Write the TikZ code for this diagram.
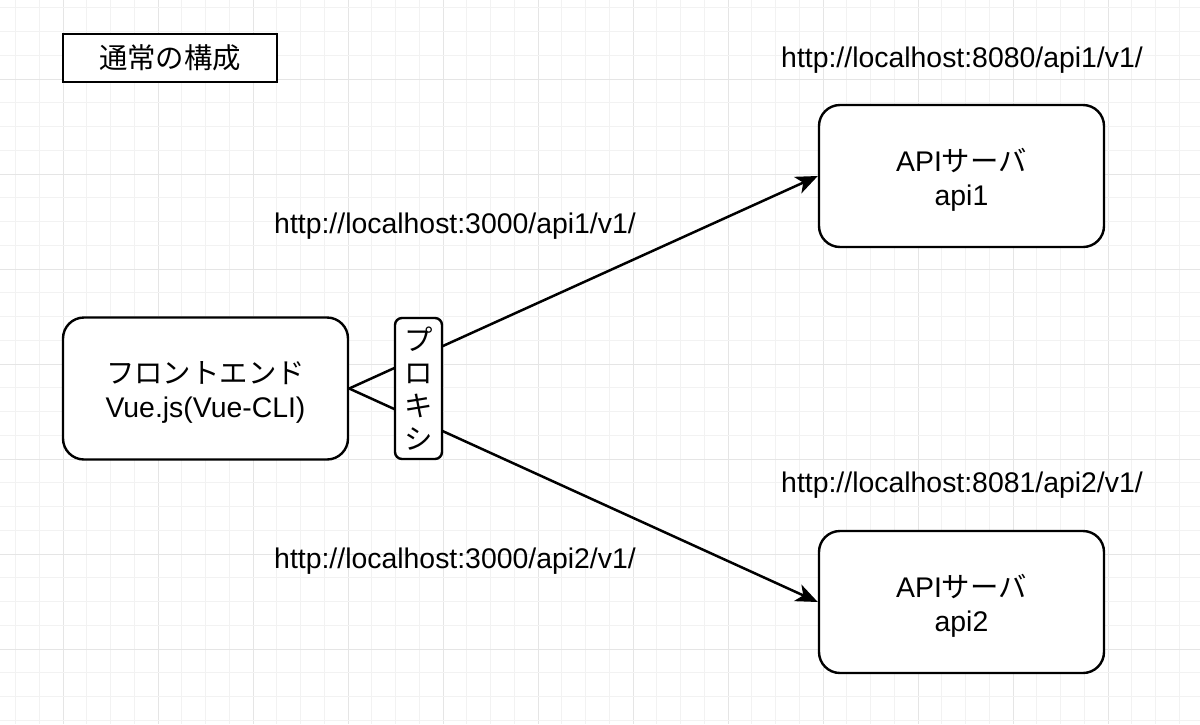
\documentclass[tikz,border=0pt]{standalone}
\usepackage{fontspec}
\setmainfont{Liberation Sans}
\newfontfamily\jp{Noto Sans CJK JP}
\usetikzlibrary{arrows.meta}
\begin{document}
\begin{tikzpicture}[x=0.5pt,y=-0.5pt,
  txt/.style={font=\fontsize{14.2pt}{17pt}\selectfont, inner sep=0pt},
  boxtxt/.style={font=\fontsize{14.2pt}{17pt}\selectfont, inner sep=0pt, align=center},
  bigbox/.style={draw, line width=1.2pt, rounded corners=10.5pt, fill=white,
    minimum width=142.5pt, minimum height=71pt, inner sep=0pt},
  proxybox/.style={draw, line width=1.2pt, rounded corners=3.5pt, fill=white,
    minimum width=23.5pt, minimum height=70.5pt, align=center, inner sep=0pt,
    font=\jp\fontsize{14.2pt}{16.5pt}\selectfont},
  titlebox/.style={draw, line width=1.2pt, fill=white,
    minimum width=107pt, minimum height=24pt, inner sep=0pt,
    font=\jp\fontsize{14.2pt}{17pt}\selectfont},
  edge/.style={line width=1.25pt, -{Stealth[length=11pt,width=9pt,inset=3pt]}},
  minorgrid/.style={draw=black!5, line width=0.5pt},
  majorgrid/.style={draw=black!10, line width=0.5pt}]
\useasboundingbox (0,0) rectangle (1200,724);
\fill[white] (0,0) rectangle (1200,724);
% grid
\foreach \i in {0,...,50} {
  \pgfmathsetmacro{\xx}{15.5+23.75*\i}
  \pgfmathtruncatemacro{\m}{mod(\i+2,4)}
  \ifnum\m=0 \draw[majorgrid] (\xx,0) -- (\xx,724); \else \draw[minorgrid] (\xx,0) -- (\xx,724); \fi
}
\foreach \j in {0,...,30} {
  \pgfmathsetmacro{\yy}{7.75+23.75*\j}
  \pgfmathtruncatemacro{\m}{mod(\j+1,4)}
  \ifnum\m=0 \draw[majorgrid] (0,\yy) -- (1200,\yy); \else \draw[minorgrid] (0,\yy) -- (1200,\yy); \fi
}
% title
\node[titlebox] (title) at (170,58) {通常の構成};
% boxes
\node[bigbox] (fe) at (205.5,388.5) {};
\node[boxtxt] (fetext) at (205.5,392) {{\jp フロントエンド}\\Vue.js(Vue-CLI)};
\node[bigbox] (api1) at (961.5,176) {};
\node[boxtxt] (api1text) at (961.5,179.5) {API{\jp サーバ}\\api1};
\node[bigbox] (api2) at (961.5,602) {};
\node[boxtxt] (api2text) at (961.5,605.5) {API{\jp サーバ}\\api2};
% edges
\draw[edge] (fe.east) -- (api1.west);
\draw[edge] (fe.east) -- (api2.west);
% proxy on top
\node[proxybox] (proxy) at (418.5,388.5) {プ\\ロ\\キ\\シ};
% url labels
\node[txt, anchor=base] (l1) at (455,233) {http://localhost:3000/api1/v1/};
\node[txt, anchor=base] (l2) at (455,568) {http://localhost:3000/api2/v1/};
\node[txt, anchor=base] (l3) at (962,67) {http://localhost:8080/api1/v1/};
\node[txt, anchor=base] (l4) at (962,492) {http://localhost:8081/api2/v1/};
\end{tikzpicture}
\end{document}
